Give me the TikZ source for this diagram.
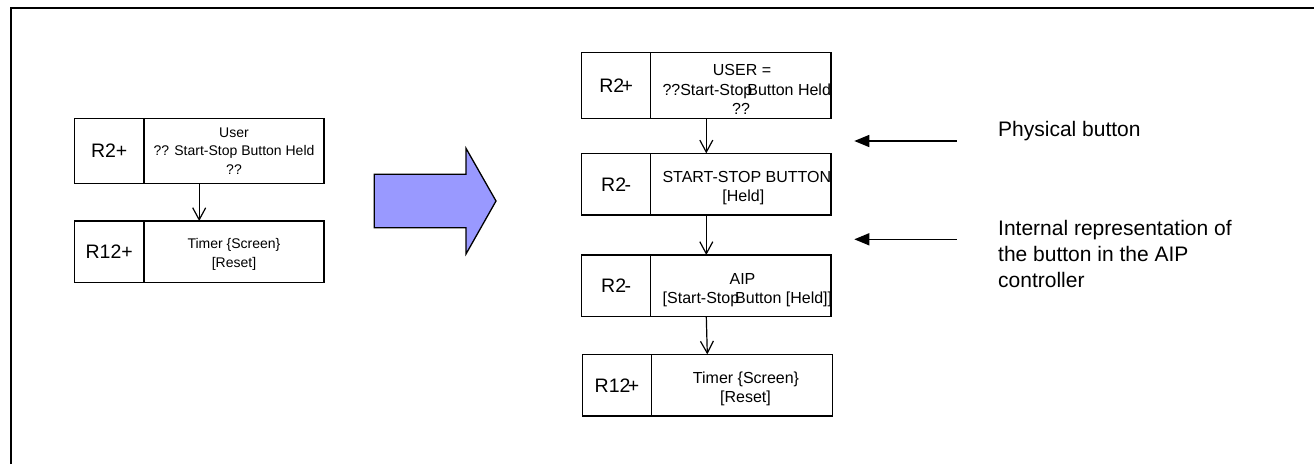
\documentclass[tikz,border=0pt]{standalone}
\usepackage{fontspec}
\setmainfont{Liberation Sans}
\usetikzlibrary{arrows.meta}
\definecolor{arrowblue}{RGB}{153,153,255}
\newcommand\lblfont{\fontsize{19.5}{22}\selectfont}
\newcommand\smallboxfont{\fontsize{14}{17}\selectfont}
\newcommand\boxfont{\fontsize{16}{19}\selectfont}
\newcommand\notefont{\fontsize{21}{25}\selectfont}
\begin{document}
\begin{tikzpicture}[x=1pt,y=-1pt,
  frameline/.style={line width=2pt},
  cellbox/.style={draw, line width=1.3pt, outer sep=0pt, inner sep=0pt, rectangle},
  divider/.style={line width=1.3pt},
  flow/.style={line width=1.2pt, -{Straight Barb[length=12pt,width=13pt,line width=1.2pt]}},
  pointer/.style={line width=1.5pt, -{Triangle[length=15pt,width=12pt]}},
  lbl/.style={inner sep=0pt, text height=14pt, text depth=0pt, font=\lblfont},
  lineL/.style={inner sep=0pt, anchor=base, font=\smallboxfont},
  lineR/.style={inner sep=0pt, anchor=base, font=\boxfont},
  lineRw/.style={inner sep=0pt, anchor=base west, font=\boxfont},
  note/.style={inner sep=0pt, anchor=base west, font=\notefont},
]
\useasboundingbox (0,0) rectangle (1314,464);

% outer frame (top and left edges)
\draw[frameline] (11,464) -- (11,8) -- (1314,8);

% ---------- left chain ----------
\node[cellbox, minimum width=249.7pt, minimum height=65pt] (L1) at (199.2,150.8) {};
\node[cellbox, minimum width=249.7pt, minimum height=61.7pt] (L2) at (199.2,251.85) {};
\draw[divider] ([xshift=69.7pt]L1.north west) -- ([xshift=69.7pt]L1.south west);
\draw[divider] ([xshift=69.7pt]L2.north west) -- ([xshift=69.7pt]L2.south west);

\node[lbl] (L1lab) at (109.2,150.8) {R2+};
\node[lineL] (L1a) at (234,137.5) {User};
\node[lineL] (L1b) at (234,155.8) {?? Start-Stop Button Held};
\node[lineL] (L1c) at (234,174.1) {??};

\node[lbl] (L2lab) at (109.2,251.85) {R12+};
\node[lineL] (L2a) at (234,248.5) {Timer \{Screen\}};
\node[lineL] (L2b) at (234,267) {[Reset]};

\draw[flow] (L1.south) -- (L2.north);

% ---------- block arrow ----------
\draw[line width=1.3pt, fill=arrowblue, line join=miter]
  (374.3,174.3) -- (466,174.3) -- (466,148.3) -- (496,201) -- (466,254)
  -- (466,227.7) -- (374.3,227.7) -- cycle;

% ---------- right chain ----------
\node[cellbox, minimum width=249.3pt, minimum height=65.6pt] (R1) at (706.3,85.5) {};
\node[cellbox, minimum width=249.3pt, minimum height=61.7pt] (R2) at (706.3,184.2) {};
\node[cellbox, minimum width=249.3pt, minimum height=61.7pt] (R3) at (706.3,285.8) {};
\node[cellbox, minimum width=250pt, minimum height=61.7pt] (R4) at (707.3,385.2) {};
\foreach \b in {R1,R2,R3}
  \draw[divider] ([xshift=69pt]\b.north west) -- ([xshift=69pt]\b.south west);
\draw[divider] ([xshift=69.4pt]R4.north west) -- ([xshift=69.4pt]R4.south west);

\node[lbl] (R1lab) at (616.2,85.5) {R2\kern-2.5pt+};
\node[lbl] (R2lab) at (616.2,184.2) {R2\kern-1.5pt-};
\node[lbl] (R3lab) at (616.2,285.8) {R2\kern-1.5pt-};
\node[lbl] (R4lab) at (617,385.2) {R12\kern-2.5pt+};

\begin{scope}
  \clip ([xshift=69pt]R1.north west) rectangle (R1.south east);
  \node[lineR] (R1a) at (742,75.5) {USER =};
  \node[lineRw] (R1b) at (662.3,95.5) {??Start-Stop\kern-5pt Button Held};
  \node[lineR] (R1c) at (741,114.5) {??};
\end{scope}
\begin{scope}
  \clip ([xshift=69pt]R2.north west) rectangle (R2.south east);
  \node[lineRw] (R2a) at (662.3,182.7) {START-STOP BUTTON};
  \node[lineR] (R2b) at (743.3,201.5) {[Held]};
\end{scope}
\begin{scope}
  \clip ([xshift=69pt]R3.north west) rectangle (R3.south east);
  \node[lineR] (R3a) at (742.5,284) {AIP};
  \node[lineRw] (R3b) at (662.5,303) {[Start-Stop\kern-4pt Button [Held]]};
\end{scope}
\node[lineR] (R4a) at (746,383) {Timer \{Screen\}};
\node[lineR] (R4b) at (745.5,402) {[Reset]};

\draw[flow] (R1.south) -- (R2.north);
\draw[flow] (R2.south) -- (R3.north);
\draw[flow] (R3.south) -- (R4.north);

% ---------- side notes ----------
\coordinate (n1s) at (956.7,141);
\coordinate (n1e) at (854.3,141);
\coordinate (n2s) at (956.7,239.3);
\coordinate (n2e) at (854.3,239.3);
\draw[pointer] (n1s) -- (n1e);
\draw[pointer] (n2s) -- (n2e);

\node[note] (N1) at (998,136) {Physical button};
\node[note] (N2a) at (998,235) {Internal representation of};
\node[note] (N2b) at (998,261) {the button in the AIP};
\node[note] (N2c) at (998,287) {controller};
\end{tikzpicture}
\end{document}
